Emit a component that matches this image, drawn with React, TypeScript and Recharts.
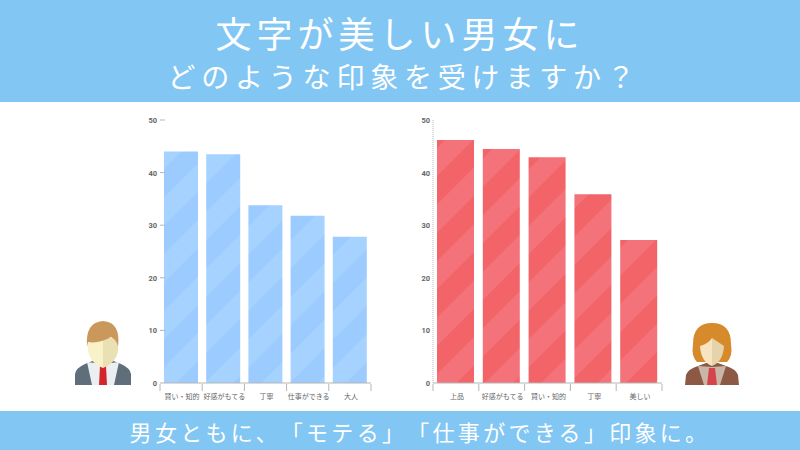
import { BarChart, Bar, XAxis, YAxis } from 'recharts';

// 文字が美しい男女の印象 (%)
const MEN_LABELS = ['賢い・知的', '好感がもてる', '丁寧', '仕事ができる', '大人'];
const MEN_VALUES = [44, 43.5, 33.8, 31.8, 27.8];
const WOMEN_LABELS = ['上品', '好感がもてる', '賢い・知的', '丁寧', '美しい'];
const WOMEN_VALUES = [46.2, 44.5, 42.9, 35.9, 27.2];
const Y_TICKS = [0, 10, 20, 30, 40, 50];

const FONT = '"Noto Sans CJK JP", "Noto Sans", sans-serif';
const BANNER = '#82c6f4';

function toRows(labels: string[], values: number[]) {
    return labels.map((label, i) => ({ label, value: values[i] }));
}

// x axis label plus the small separators at the band edges
function BandTick({ x, y, payload, index, band }: any) {
    return (
        <g>
            {index === 0 && <line x1={x - band / 2} x2={x - band / 2} y1={y - 7} y2={y} stroke="#b5b5b5" />}
            <line x1={x + band / 2} x2={x + band / 2} y1={y - 7} y2={y} stroke="#b5b5b5" />
            <text x={x + 1} y={y + 8} textAnchor="middle" fontSize={7} fill="#666" fontFamily={FONT}>
                {payload.value}
            </text>
        </g>
    );
}

// left chart has its tick marks inside the plot, no axis line
function ValueTick({ x, y, payload, mark }: any) {
    return (
        <g>
            {mark && payload.value > 0 && <line x1={x} x2={x + 5} y1={y} y2={y} stroke="#b5b5b5" />}
            <text x={x - 3} y={y + 3} textAnchor="end" fontSize={7.5} fontWeight={700} fill="#666" fontFamily="Roboto">
                {payload.value}
            </text>
        </g>
    );
}

function Stripes({ id, light, dark }: { id: string; light: string; dark: string }) {
    return (
        <defs>
            <pattern id={id} patternUnits="userSpaceOnUse" width={40} height={40} patternTransform="rotate(45)">
                <rect width={40} height={40} fill={light} />
                <rect width={20} height={40} fill={dark} />
            </pattern>
        </defs>
    );
}

function ManIcon() {
    return (
        <svg width={60} height={70} viewBox="0 0 60 70" style={{ position: 'absolute', left: 73, top: 318 }}>
            <path d="M2 67 L2 56 Q3 50 12 46 L22 42 L38 42 L48 46 Q57 50 58 56 L58 67 Z" fill="#5e6f7b" />
            <path d="M14 44 L30 46 L46 44 L41 67 L19 67 Z" fill="#eceff1" />
            <path d="M27 48 L33 48 L34 67 L26 67 Z" fill="#d3262c" />
            <path d="M15 20 L15 32 Q16 44 30 50 L30 20 Z" fill="#f9f2c8" />
            <path d="M45 20 L45 32 Q44 44 30 50 L30 20 Z" fill="#e9e0b4" />
            <path d="M14 29 Q12 4 30 3 Q48 4 45 29 Q44 22 38 19 Q26 26 15 24 Z" fill="#c9985a" />
        </svg>
    );
}

function WomanIcon() {
    return (
        <svg width={56} height={72} viewBox="0 0 56 72" style={{ position: 'absolute', left: 684, top: 322 }}>
            <path d="M1 63 L2 53 Q4 47 14 44 L22 41 L34 41 L42 44 Q52 47 54 53 L55 63 Z" fill="#8c5a44" />
            <path d="M14 44 L28 45 L42 44 L36 63 L20 63 Z" fill="#c9b6a6" />
            <path d="M25 46 L31 46 L33 63 L23 63 Z" fill="#d5444c" />
            <path d="M28 1 Q9 1 9 22 Q7 34 13 40 L43 40 Q49 34 47 22 Q47 1 28 1 Z" fill="#d68a2c" />
            <path d="M16 24 Q24 22 28 16 L28 44 Q17 40 16 24 Z" fill="#f8e4c0" />
            <path d="M40 24 Q34 20 28 16 L28 44 Q39 40 40 24 Z" fill="#e6d2ab" />
        </svg>
    );
}

function Panel({ labels, values, left, width, plotLeft, plotRight, band, barSize, fillId, light, dark, axisLine }: any) {
    return (
        <div style={{ position: 'absolute', left, top: 100 }}>
            <BarChart
                width={width}
                height={310}
                data={toRows(labels, values)}
                margin={{ top: 20, right: plotRight, bottom: 0, left: plotLeft - 24 }}
            >
                <Stripes id={fillId} light={light} dark={dark} />
                <XAxis
                    dataKey="label"
                    interval={0}
                    height={27}
                    axisLine={{ stroke: '#b5b5b5' }}
                    tickLine={false}
                    tick={<BandTick band={band} />}
                />
                <YAxis
                    width={24}
                    domain={[0, 50]}
                    ticks={Y_TICKS}
                    interval={0}
                    axisLine={axisLine ? { stroke: '#b5b5b5', strokeDasharray: '1 1' } : false}
                    tickLine={false}
                    tickSize={0}
                    tickMargin={0}
                    tick={<ValueTick mark={!axisLine} />}
                />
                <Bar dataKey="value" fill={`url(#${fillId})`} barSize={barSize} isAnimationActive={false} />
            </BarChart>
        </div>
    );
}

export default function App() {
    return (
        <div style={{ position: 'absolute', left: 0, top: 0, width: 800, height: 450, background: '#fff', overflow: 'hidden', fontFamily: FONT }}>
            <div style={{ position: 'absolute', left: 0, top: 0, width: 800, height: 102, background: BANNER, color: '#fff', textAlign: 'center' }}>
                <div style={{ position: 'absolute', top: 8, width: 800, fontSize: 36, lineHeight: '48px', letterSpacing: 5 }}>文字が美しい男女に</div>
                <div style={{ position: 'absolute', left: 4, top: 56, width: 800, fontSize: 28, lineHeight: '40px', letterSpacing: 5.8 }}>どのような印象を受けますか？</div>
            </div>

            <Panel
                labels={MEN_LABELS}
                values={MEN_VALUES}
                left={120}
                width={270}
                plotLeft={40}
                plotRight={19}
                band={42.2}
                barSize={34}
                fillId="menStripes"
                light="#a6d2ff"
                dark="#9bcbff"
                axisLine={false}
            />
            <Panel
                labels={WOMEN_LABELS}
                values={WOMEN_VALUES}
                left={400}
                width={280}
                plotLeft={33}
                plotRight={18}
                band={45.8}
                barSize={37}
                fillId="womenStripes"
                light="#f4727a"
                dark="#f26468"
                axisLine={true}
            />

            <ManIcon />
            <WomanIcon />

            <div style={{ position: 'absolute', left: 0, top: 411, width: 800, height: 39, background: BANNER }} />
            <div style={{ position: 'absolute', left: 20, top: 411, width: 800, color: '#fff', textAlign: 'center', fontSize: 22, lineHeight: '40px', letterSpacing: 3.3, textSpacingTrim: 'space-all', whiteSpace: 'nowrap' } as any}>
                男女ともに、「モテる」「仕事ができる」印象に。
            </div>
        </div>
    );
}
